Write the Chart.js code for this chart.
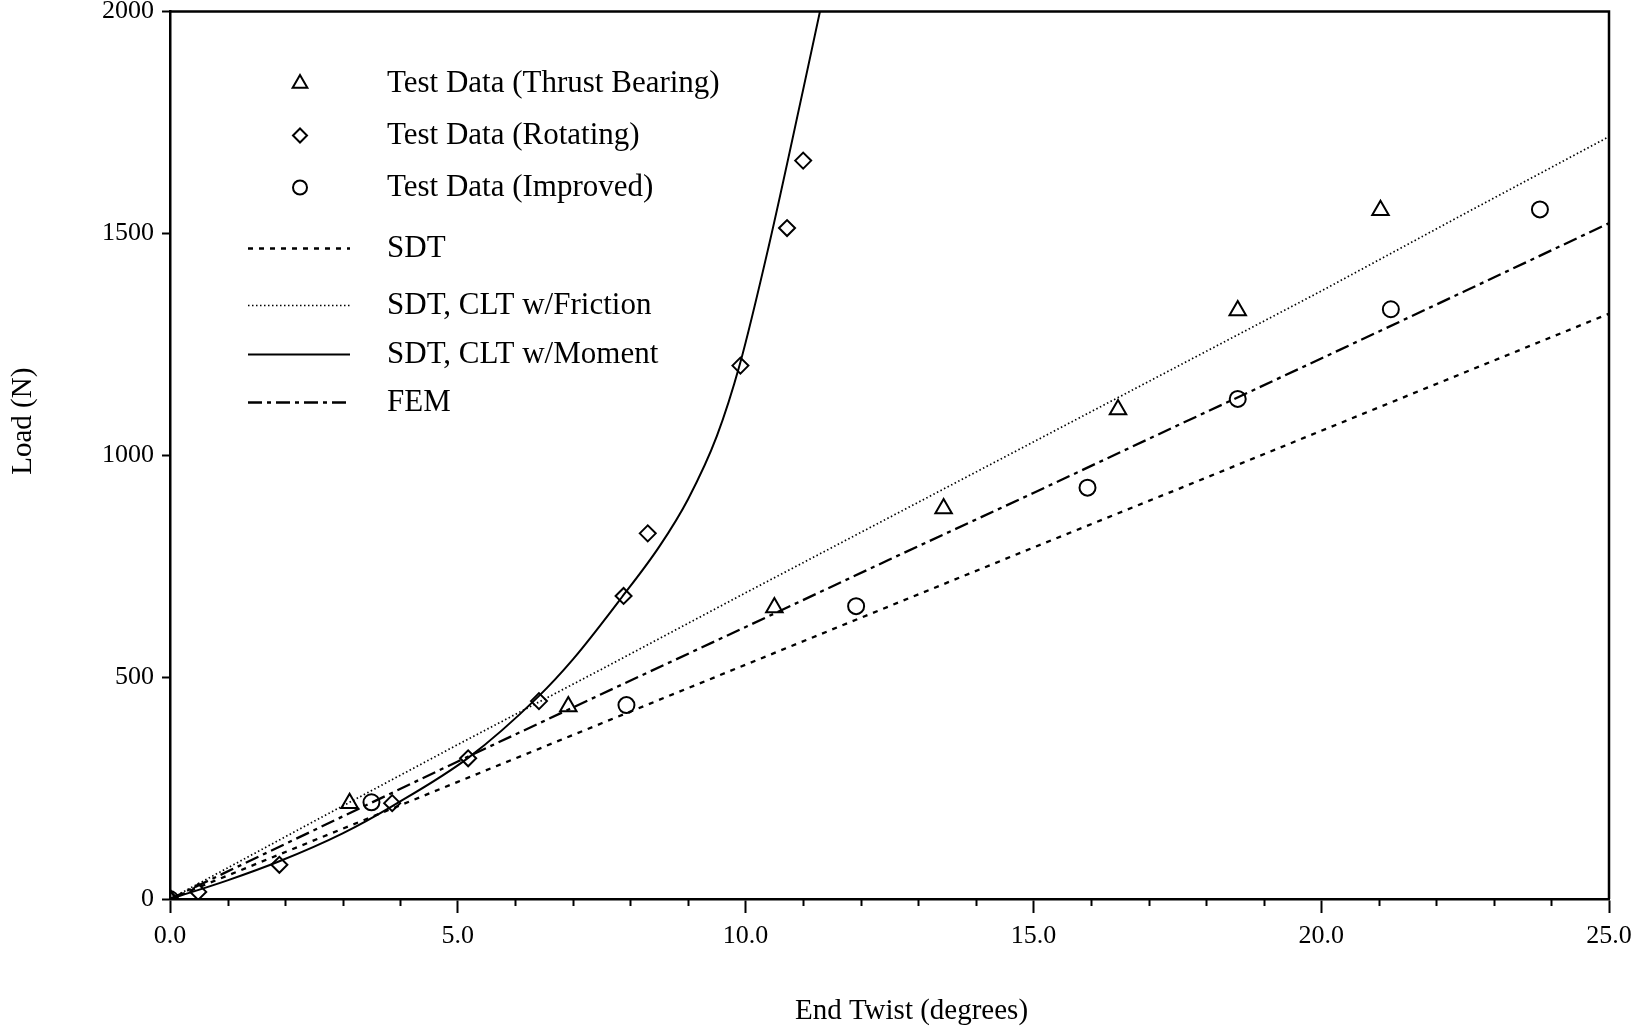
<!DOCTYPE html>
<html>
<head>
<meta charset="utf-8">
<script src="https://cdn.jsdelivr.net/npm/chart.js@4.4.0/dist/chart.umd.min.js"></script>
<style>
  html, body { margin: 0; padding: 0; background: #fff; }
  #wrap { width: 1635px; height: 1032px; position: relative; }
</style>
</head>
<body>
<div id="wrap"><canvas id="c" width="1635" height="1032"></canvas></div>
<script>
// Measured end twist (degrees) and load (N)
const thrustTwist = [0, 3.12, 6.92, 10.5, 13.44, 16.47, 18.55, 21.03];
const thrustLoad  = [0, 216, 434, 657, 880, 1103, 1326, 1552];

const rotTwist = [0, 0.49, 1.9, 3.86, 5.18, 6.41, 7.88, 8.3, 9.91, 10.72, 11.0];
const rotLoad  = [0, 16, 77, 216, 317, 446, 683, 824, 1202, 1512, 1664];

const impTwist = [0, 3.5, 7.93, 11.92, 15.94, 18.55, 21.21, 23.8];
const impLoad  = [0, 218, 437, 660, 927, 1127, 1329, 1554];

// Model predictions
const modelTwist   = [0, 2.5, 5, 7.5, 10, 12.5, 15, 17.5, 20, 22.5, 25];
const sdtLoad      = [0, 132, 264, 396, 528, 660, 792, 923, 1055, 1187, 1319];
const frictionLoad = [0, 175, 348, 518, 690, 860, 1030, 1200, 1370, 1545, 1718];
const femLoad      = [0, 155, 310, 462, 613, 765, 915, 1067, 1218, 1370, 1523];

const momentTwist = [0, 1, 1.9, 3, 3.87, 5.18, 6.39, 7, 7.85, 8.5, 9, 9.5, 9.9, 10.4, 11, 11.3];
const momentLoad  = [0, 42, 85, 148, 210, 318, 455, 540, 680, 794, 901, 1043, 1205, 1470, 1824, 2005];

const xTickValues = [0, 5, 10, 15, 20, 25];
const yTickValues = [0, 500, 1000, 1500, 2000];

const seriesLabels = [
  'Test Data (Thrust Bearing)',
  'Test Data (Rotating)',
  'Test Data (Improved)',
  'SDT',
  'SDT, CLT w/Friction',
  'SDT, CLT w/Moment',
  'FEM'
];

const SERIF = '"Liberation Serif", "Times New Roman", serif';
const INK = '#000';

const pairs = (xs, ys) => xs.map((x, i) => ({ x: x, y: ys[i] }));

const markerSet = (label, xs, ys, style, radius) => ({
  label: label,
  data: pairs(xs, ys),
  showLine: false,
  pointStyle: style,
  pointRadius: radius,
  pointHoverRadius: radius,
  pointBorderWidth: 2,
  pointBorderColor: INK,
  pointBackgroundColor: 'rgba(0,0,0,0)',
  order: 0
});

const curveSet = (label, xs, ys, dash, width, extra) => Object.assign({
  label: label,
  data: pairs(xs, ys),
  showLine: true,
  borderColor: INK,
  borderWidth: width,
  borderDash: dash,
  pointRadius: 0,
  pointHoverRadius: 0,
  fill: false,
  order: 1
}, extra || {});

const datasets = [
  markerSet(seriesLabels[0], thrustTwist, thrustLoad, 'triangle', 9.5),
  markerSet(seriesLabels[1], rotTwist, rotLoad, 'rectRot', 8),
  markerSet(seriesLabels[2], impTwist, impLoad, 'circle', 8),
  curveSet(seriesLabels[3], modelTwist, sdtLoad, [5, 6], 2.3),
  curveSet(seriesLabels[4], modelTwist, frictionLoad, [1.5, 2.5], 1.7),
  curveSet(seriesLabels[5], momentTwist, momentLoad, [], 2, { cubicInterpolationMode: 'monotone' }),
  curveSet(seriesLabels[6], modelTwist, femLoad, [14, 5, 4, 5], 2.3)
];

// Closes the plot frame and adds unlabelled one-degree ticks on the x axis
const framePlugin = {
  id: 'frame',
  afterDatasetsDraw(chart) {
    const { ctx, chartArea: a, scales } = chart;
    ctx.save();
    ctx.strokeStyle = INK;
    ctx.lineWidth = 2.5;
    ctx.beginPath();
    ctx.moveTo(a.left, a.top);
    ctx.lineTo(a.right, a.top);
    ctx.lineTo(a.right, a.bottom);
    ctx.stroke();
    ctx.lineWidth = 2;
    const xs = scales.x;
    for (let v = xs.min; v <= xs.max; v += 1) {
      if (v % 5 === 0) continue;
      const px = Math.round(xs.getPixelForValue(v)) + 0.5;
      ctx.beginPath();
      ctx.moveTo(px, a.bottom);
      ctx.lineTo(px, a.bottom + 7);
      ctx.stroke();
    }
    ctx.restore();
  }
};

// Axis titles
const titlePlugin = {
  id: 'axisTitles',
  afterDraw(chart) {
    const { ctx, chartArea: a } = chart;
    ctx.save();
    ctx.fillStyle = INK;
    ctx.font = '29px ' + SERIF;
    ctx.textAlign = 'center';
    ctx.textBaseline = 'middle';
    ctx.fillText('End Twist (degrees)', (a.left + a.right) / 2 + 22, 1011);
    ctx.translate(23, (a.top + a.bottom) / 2 - 34);
    ctx.rotate(-Math.PI / 2);
    ctx.fillText('Load (N)', 0, 0);
    ctx.restore();
  }
};

// Key drawn inside the upper-left of the plot
const keyPlugin = {
  id: 'key',
  afterDraw(chart) {
    const { ctx, chartArea: a } = chart;
    const rowsY = [72, 124, 176, 237, 294, 343, 391];
    const sampleX0 = a.left + 78, sampleX1 = a.left + 180;
    const markX = a.left + 130;
    const textX = a.left + 217;
    ctx.save();
    ctx.font = '31px ' + SERIF;
    ctx.textBaseline = 'middle';
    ctx.textAlign = 'left';
    chart.data.datasets.forEach((ds, i) => {
      const y = a.top + rowsY[i];
      ctx.strokeStyle = INK;
      ctx.fillStyle = 'rgba(0,0,0,0)';
      if (!ds.showLine) {
        ctx.lineWidth = ds.pointBorderWidth;
        Chart.helpers.drawPoint(ctx, {
          pointStyle: ds.pointStyle,
          rotation: 0,
          radius: ds.pointRadius - 1,
          borderWidth: ds.pointBorderWidth
        }, markX, y);
      } else {
        ctx.lineWidth = ds.borderWidth;
        ctx.setLineDash(ds.borderDash);
        ctx.beginPath();
        ctx.moveTo(sampleX0, y);
        ctx.lineTo(sampleX1, y);
        ctx.stroke();
        ctx.setLineDash([]);
      }
      ctx.fillStyle = INK;
      ctx.fillText(ds.label, textX, y);
    });
    ctx.restore();
  }
};

new Chart(document.getElementById('c'), {
  type: 'scatter',
  data: { datasets: datasets },
  options: {
    responsive: false,
    animation: false,
    devicePixelRatio: 1,
    layout: { padding: { top: 11, right: 26, left: 0, bottom: 0 } },
    plugins: {
      legend: { display: false },
      tooltip: { enabled: false },
      title: { display: false }
    },
    scales: {
      x: {
        type: 'linear',
        min: 0,
        max: 25,
        afterFit(scale) {
          scale.height = 133;
          scale.paddingLeft = 0;
          scale.paddingRight = 0;
        },
        afterBuildTicks(scale) { scale.ticks = xTickValues.map(v => ({ value: v })); },
        ticks: {
          color: INK,
          font: { family: SERIF, size: 26 },
          padding: 8,
          maxRotation: 0,
          callback: v => Number(v).toFixed(1)
        },
        grid: {
          drawOnChartArea: false,
          drawTicks: true,
          tickLength: 14,
          tickColor: INK,
          tickWidth: 2
        },
        border: { display: true, color: INK, width: 2.5 }
      },
      y: {
        type: 'linear',
        min: 0,
        max: 2000,
        afterFit(scale) {
          scale.width = 170;
          scale.paddingTop = 0;
          scale.paddingBottom = 0;
        },
        afterBuildTicks(scale) { scale.ticks = yTickValues.map(v => ({ value: v })); },
        ticks: {
          color: INK,
          font: { family: SERIF, size: 26 },
          padding: 8,
          callback: v => String(v)
        },
        grid: {
          drawOnChartArea: false,
          drawTicks: true,
          tickLength: 8,
          tickColor: INK,
          tickWidth: 2
        },
        border: { display: true, color: INK, width: 2.5 }
      }
    }
  },
  plugins: [framePlugin, titlePlugin, keyPlugin]
});
</script>
</body>
</html>
